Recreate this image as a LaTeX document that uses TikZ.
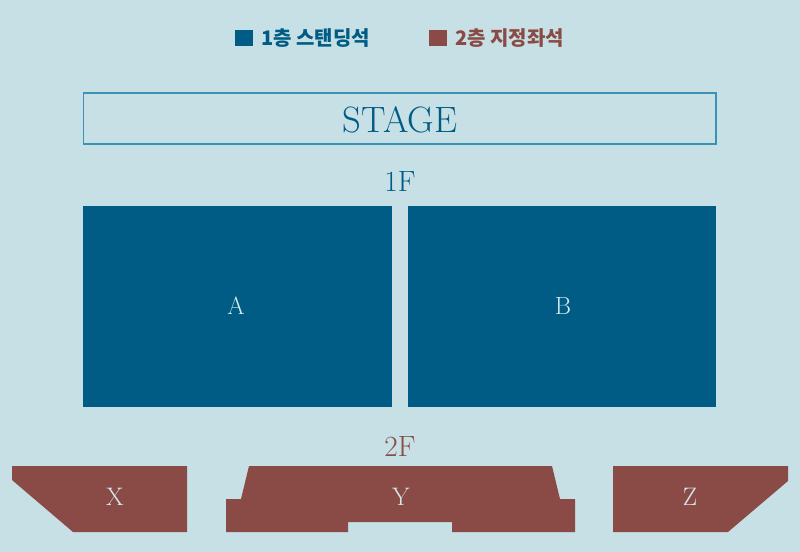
\documentclass[tikz,border=0pt]{standalone}
\usepackage{fontspec}
\newfontfamily\kr{Noto Sans CJK KR}
\definecolor{bg}{HTML}{C6E0E5}
\definecolor{blu}{HTML}{005B85}
\definecolor{brn}{HTML}{8A4B47}
\definecolor{stg}{HTML}{3A92B4}
\definecolor{lbl}{HTML}{D3E8EE}
\tikzset{
  seatA/.style={fill=blu,draw=none},
  seatB/.style={fill=brn,draw=none},
  lab/.style={text=lbl,font=\fontsize{19}{19}\selectfont,inner sep=0pt},
  floor/.style={font=\fontsize{22}{22}\selectfont,inner sep=0pt},
  legtxt/.style={font=\kr\bfseries\fontsize{15}{15}\selectfont,inner sep=0pt,anchor=west}
}
\begin{document}
\begin{tikzpicture}[x=0.75pt,y=-0.75pt]
\fill[bg] (0,0) rectangle (800,552);
\useasboundingbox (0,0) rectangle (800,552);
% legend
\fill[blu] (235,30) rectangle (253,46);
\node[legtxt,text=blu] (l1) at (261,38) {1층 스탠딩석};
\fill[brn] (429,30) rectangle (447,46);
\node[legtxt,text=brn] (l2) at (455,38) {2층 지정좌석};
% stage
\draw[stg,line width=1pt] (83.5,93) rectangle (716,144);
\node[text=blu,font=\fontsize{27.5}{27.5}\selectfont,inner sep=0pt] (stage) at (400,119.5) {STAGE};
% 1F
\node[floor,text=blu] (f1) at (400,182) {1F};
\fill[seatA] (83,206) rectangle (391.5,407);
\fill[seatA] (408,206) rectangle (716,407);
\node[lab,font=\fontsize{18.7}{18.7}\selectfont] (A) at (236,305.5) {A};
\node[lab,font=\fontsize{18.7}{18.7}\selectfont] (B) at (563,305.5) {B};
% 2F
\node[floor,text=brn] (f2) at (400,446.5) {2F};
\fill[seatB] (12,466) -- (187,466) -- (187,532) -- (73,532) -- (12,480) -- cycle;
\fill[seatB] (249,466) -- (552,466) -- (560,499) -- (575,499) -- (575,532) -- (452,532) -- (452,522) -- (348,522) -- (348,532) -- (226,532) -- (226,499) -- (241,499) -- cycle;
\fill[seatB] (613,466) -- (788,466) -- (788,481) -- (728,532) -- (613,532) -- cycle;
\node[lab] (X) at (115,497) {X};
\node[lab] (Y) at (401,497) {Y};
\node[lab] (Z) at (690,497) {Z};
\end{tikzpicture}
\end{document}
